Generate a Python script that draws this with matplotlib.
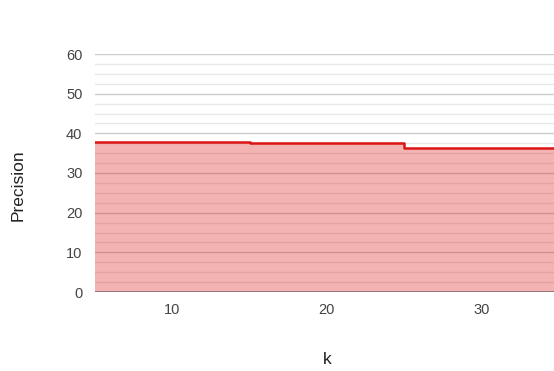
import matplotlib
matplotlib.use("Agg")
import matplotlib.pyplot as plt
import numpy as np

# precision at each k (step changes)
k_values = [5, 15, 25, 34.7]
precision = [37.9, 37.6, 36.2, 36.2]

x_ticks = [10, 20, 30]
y_ticks = [0, 10, 20, 30, 40, 50, 60]

RED = '#dc1414'

plt.rcParams['font.family'] = ['Liberation Sans', 'DejaVu Sans']

fig = plt.figure(figsize=(5.54, 3.71), dpi=100)
ax = fig.add_axes([95 / 554, 1 - 292 / 371, 1 - 95 / 554, (292 - 54) / 371])

# gridlines, minor every 2.5
for y in np.arange(0, 60.01, 2.5):
    major = y % 10 == 0
    ax.axhline(y, color='#cccccc' if major else '#e8e8e8', lw=1, zorder=0)

ax.fill_between(k_values, precision, 0, step='post', color=RED, alpha=0.32, lw=0, zorder=1)
ax.step(k_values, precision, where='post', color=RED, lw=1.8, zorder=3)
ax.axhline(0, color='#8a6a6a', lw=1.2, zorder=2)

ax.set_xlim(5, 34.7)
ax.set_ylim(0, 60)
ax.set_xticks(x_ticks)
ax.set_yticks(y_ticks)
ax.tick_params(length=0, labelsize=10.5, colors='#444444')
ax.tick_params(axis='x', pad=8)
ax.tick_params(axis='y', pad=9)
for s in ax.spines.values():
    s.set_visible(False)

fig.text(18 / 554, 1 - 185 / 371, 'Precision', rotation=90, ha='center', va='center',
         fontsize=12.5, color='#222222')
fig.text(327 / 554, 1 - 359 / 371, 'k', ha='center', va='center',
         fontsize=12.5, color='#222222')

plt.savefig('out.png', dpi=100)
